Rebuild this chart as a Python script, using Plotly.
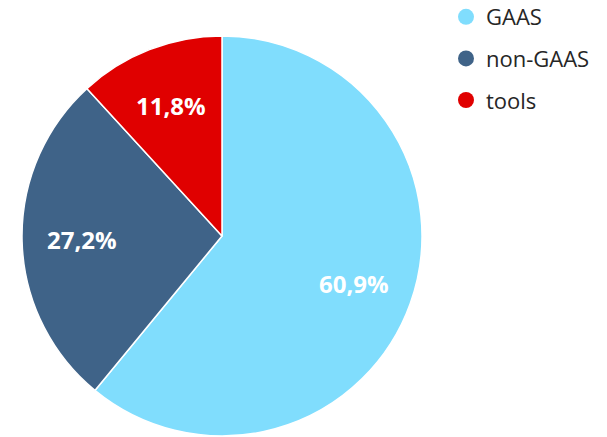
import math
import plotly.graph_objects as go

categories = ["GAAS", "non-GAAS", "tools"]
values = [60.9, 27.2, 11.8]
colors = ["#80DDFD", "#3F6388", "#E00000"]

W, H = 607, 437
# pie geometry in figure pixels
cx, cy, r = 222, 236, 200
label_r = 0.7

fig = go.Figure()
fig.add_trace(go.Pie(
    labels=categories, values=values,
    marker=dict(colors=colors, line=dict(color="white", width=1.5)),
    sort=False, direction="clockwise", rotation=0,
    textinfo="none", showlegend=False, hoverinfo="label+value",
    domain=dict(x=[(cx - r) / W, (cx + r) / W], y=[max(0, 1 - (cy + r) / H), 1 - (cy - r) / H]),
))

# value labels placed along each slice's bisector
total = sum(values)
cum = 0.0
for v in values:
    mid = (cum + v / 2) / total * 2 * math.pi
    cum += v
    px = cx + label_r * r * math.sin(mid)
    py = cy - label_r * r * math.cos(mid)
    fig.add_annotation(
        x=px / W, y=1 - py / H, xref="paper", yref="paper",
        text=f"{v:.1f}%".replace(".", ","), showarrow=False,
        font=dict(family="Open Sans", size=24, color="white", weight="bold"),
        xanchor="center", yanchor="middle",
    )

for c, col in zip(categories, colors):
    fig.add_trace(go.Scatter(
        x=[None], y=[None], mode="markers", name=c,
        marker=dict(symbol="circle", size=16, color=col),
        legendgroup=c, showlegend=True,
    ))
fig.update_layout(
    width=W, height=H, margin=dict(l=0, r=0, t=0, b=0, autoexpand=False),
    paper_bgcolor="white", plot_bgcolor="white",
    xaxis=dict(visible=False), yaxis=dict(visible=False),
    legend=dict(x=446 / W, y=1 + 4 / H, xanchor="left", yanchor="top",
                font=dict(family="Open Sans", size=22, color="#262626"),
                tracegroupgap=10, bgcolor="rgba(0,0,0,0)"),
)
fig.write_html("out.html", config={"displayModeBar": False},
               post_script="document.body.style.margin='0';")
